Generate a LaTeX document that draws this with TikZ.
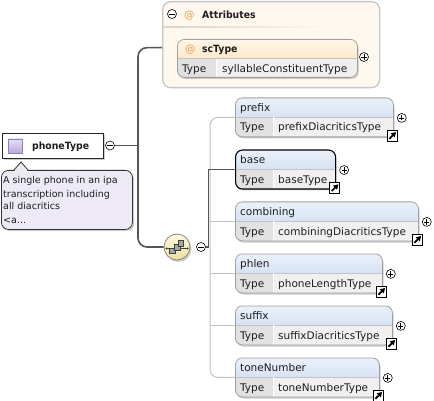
\documentclass[tikz,border=0pt]{standalone}
\usepackage{fontspec}
\setmainfont{DejaVu Sans}[BoldFeatures={FakeStretch=0.93}]
\usetikzlibrary{arrows.meta}

\definecolor{txtc}{HTML}{1E1E1E}
\definecolor{connc}{HTML}{555555}
\definecolor{treec}{HTML}{C2C2C2}
\definecolor{boxc}{HTML}{A0A0A0}
\definecolor{hdtop}{HTML}{EBF1FA}
\definecolor{hdbot}{HTML}{BFD2EE}
\definecolor{typec}{HTML}{E1E1E1}
\definecolor{valc}{HTML}{F0F0F0}
\definecolor{divc}{HTML}{C4C4C4}
\definecolor{attrfill}{HTML}{FFF8EE}
\definecolor{attrborder}{HTML}{C6C6C6}
\definecolor{attrline}{HTML}{DCD3C6}
\definecolor{orgtop}{HTML}{FFF6E8}
\definecolor{orgbot}{HTML}{FBDCAE}
\definecolor{atc}{HTML}{EBA048}
\definecolor{notefill}{HTML}{EDEAF5}
\definecolor{seqtop}{HTML}{FDF9DE}
\definecolor{seqbot}{HTML}{EADFA0}
\definecolor{seqborder}{HTML}{8A887A}
\definecolor{iconin}{HTML}{E6E0F3}
\definecolor{iconout}{HTML}{B9ABDB}
\definecolor{iconborder}{HTML}{8E80BE}

\tikzset{
  txt/.style={inner sep=0pt, anchor=base west, text=txtc, font=\fontsize{10.5}{12}\selectfont},
  btxt/.style={txt, font=\fontsize{10}{12}\selectfont\bfseries},
  ntxt/.style={txt, font=\fontsize{9.5}{12}\selectfont},
  conn/.style={draw=connc, line width=1.6pt},
  tree/.style={draw=treec, line width=1pt},
  boxshadow/.style={fill=black, opacity=0.2},
  cellbox/.style n args={3}{anchor=north west, rectangle, rounded corners=7pt,
    inner sep=0pt, minimum height=39pt, fill=white, draw=boxc, line width=0.8pt,
    path picture={
      \shade[sharp corners, top color=#1, bottom color=#2]
        (path picture bounding box.north west) rectangle ([yshift=-19.5pt]path picture bounding box.north east);
      \fill[sharp corners, fill=typec]
        ([yshift=-19.5pt]path picture bounding box.north west) rectangle ([xshift=#3]path picture bounding box.south west);
      \fill[sharp corners, fill=valc]
        ([xshift=#3,yshift=-19.5pt]path picture bounding box.north west) rectangle (path picture bounding box.south east);
      \draw[sharp corners, draw=divc, line width=0.8pt]
        ([yshift=-19.5pt]path picture bounding box.north west) -- ([yshift=-19.5pt]path picture bounding box.north east);
      \draw[sharp corners, draw=white, line width=0.8pt]
        ([xshift=#3,yshift=-19.5pt]path picture bounding box.north west) -- ([xshift=#3]path picture bounding box.south west);
    }},
  expander/.style={circle, draw=black, line width=0.6pt, fill=white, minimum size=9pt, inner sep=0pt},
  minus/.style={expander, path picture={
      \draw[draw=black, line width=0.7pt]
        ([xshift=-2.6pt]path picture bounding box.center) -- ([xshift=2.6pt]path picture bounding box.center);}},
  plus/.style={expander, path picture={
      \draw[draw=black, line width=0.7pt]
        ([xshift=-2.6pt]path picture bounding box.center) -- ([xshift=2.6pt]path picture bounding box.center)
        ([yshift=-2.6pt]path picture bounding box.center) -- ([yshift=2.6pt]path picture bounding box.center);}},
  link/.style={draw=black, line width=0.8pt, fill=white, minimum size=10.5pt, inner sep=0pt,
    path picture={
      \draw[draw=black, line width=1.7pt, -{Triangle[length=4.6pt,width=5.4pt]}]
        ([shift={(2.3pt,2.3pt)}]path picture bounding box.south west) --
        ([shift={(-1.5pt,-1.5pt)}]path picture bounding box.north east);}},
}

% element box: name, x, y, width, label, type, extra style
\newcommand\elemrow[7]{%
  \fill[boxshadow, rounded corners=7pt] (#2+1.5,#3+2) rectangle ++(#4,39);
  \node[cellbox={hdtop}{hdbot}{38pt}, minimum width=#4pt, #7] (#1) at (#2,#3) {};
  \node[txt] (#1-name) at ([xshift=5pt,yshift=-14pt]#1.north west) {#5};
  \node[txt] (#1-typelabel) at ([xshift=5pt,yshift=-33.5pt]#1.north west) {Type};
  \node[txt] (#1-type) at ([xshift=43pt,yshift=-33.5pt]#1.north west) {#6};
  \node[plus] (#1-x) at ([xshift=8pt,yshift=-0.5pt]#1.east) {};
  \node[link] (#1-link) at ([xshift=-1.5pt,yshift=1.5pt]#1.south east) {};
}

\begin{document}
\begin{tikzpicture}[x=1pt, y=-1pt]
\useasboundingbox (0,0) rectangle (434,401);

% ---- phoneType complex type ----
\fill[boxshadow] (3.5,135) rectangle (105,160);
\node[draw=black!85, line width=0.8pt, fill=white, anchor=north west,
      minimum width=101pt, minimum height=25pt, inner sep=0pt] (phone) at (2,133) {};
\node[draw=iconborder, line width=0.7pt, top color=iconin, bottom color=iconout,
      minimum width=14pt, minimum height=14pt, inner sep=0pt] (phone-icon) at (15,146) {};
\node[btxt] (phone-name) at (32,150) {phoneType};
\node[minus] (phone-x) at (110,145.5) {};

% ---- documentation balloon ----
\fill[boxshadow, rounded corners=7pt] (2.5,172) rectangle (134,231);
\node[draw=black!80, line width=0.8pt, fill=notefill, rounded corners=7pt, anchor=north west,
      minimum width=131pt, minimum height=59pt, inner sep=0pt] (note) at (1,170) {};
\fill[notefill] ([xshift=13.5pt,yshift=-0.8pt]note.north west) -- ([xshift=20pt,yshift=8pt]note.north west)
  -- ([xshift=26.5pt,yshift=-0.8pt]note.north west) -- cycle;
\draw[black!80, line width=0.8pt] ([xshift=13pt]note.north west) -- ([xshift=20pt,yshift=8pt]note.north west)
  -- ([xshift=27pt]note.north west);
\node[ntxt] (note-l1) at (3,184) {A single phone in an ipa};
\node[ntxt] (note-l2) at (3,197) {transcription including};
\node[ntxt] (note-l3) at (3,210) {all diacritics};
\node[ntxt] (note-l4) at (3,223) {<a...};

% ---- attribute group ----
\node[draw=attrborder, line width=1.3pt, fill=attrfill, rounded corners=8pt, anchor=north west,
      minimum width=217pt, minimum height=86pt, inner sep=0pt] (attrs) at (162,1) {};
\shade[left color=attrline, right color=attrfill] (163,26.5) rectangle (330,27.7);
\node[minus] (attrs-x) at (172,14) {};
\node[txt, text=atc] (attrs-at) at (184,18.5) {@};
\node[btxt] (attrs-name) at (202,18.5) {Attributes};

\fill[boxshadow, rounded corners=7pt] (178.5,41) rectangle ++(180,38);
\node[cellbox={orgtop}{orgbot}{39pt}, minimum width=180pt, minimum height=38pt] (sctype) at (177,39) {};
\node[txt, text=atc] (sctype-at) at (185,53) {@};
\node[btxt] (sctype-name) at (202,53) {scType};
\node[txt] (sctype-typelabel) at (182,72.5) {Type};
\node[txt] (sctype-type) at (222,72.5) {syllableConstituentType};
\node[plus] (sctype-x) at (364,57) {};

% ---- sequence compositor ----
\fill[boxshadow] (178.5,249) circle (13pt);
\node[circle, draw=seqborder, line width=0.8pt, top color=seqtop, bottom color=seqbot,
      minimum size=26pt, inner sep=0pt] (seq) at (177,247) {};
\begin{scope}[shift={(seq.center)}]
  \draw[black!75, line width=0.7pt] (-10.5,1.5) -- (10.5,1.5);
  \fill[black!75] (-10.5,1.5) circle (1.2pt) (10.5,1.5) circle (1.2pt);
  \filldraw[fill=black!35, draw=black!75, line width=0.5pt] (-7.3,0.8) rectangle ++(5.6,5.6);
  \filldraw[fill=black!35, draw=black!75, line width=0.5pt] (-2.3,-2.8) rectangle ++(5.6,5.6);
  \filldraw[fill=black!35, draw=black!75, line width=0.5pt] (0.9,-6.8) rectangle ++(5.6,5.6);
\end{scope}
\node[minus] (seq-x) at (201,247) {};

% ---- child elements ----
\elemrow{prefix}{235}{97.5}{158}{prefix}{prefixDiacriticsType}{}
\elemrow{base}{235}{149.5}{100}{base}{baseType}{draw=black, line width=1.1pt}
\elemrow{combining}{235}{201.5}{183}{combining}{combiningDiacriticsType}{}
\elemrow{phlen}{235}{253.5}{147}{phlen}{phoneLengthType}{}
\elemrow{suffix}{235}{305.5}{157}{suffix}{suffixDiacriticsType}{}
\elemrow{toneNumber}{235}{357.5}{144}{toneNumber}{toneNumberType}{}

% ---- connectors ----
\coordinate (j1) at (138,145.5);
\draw[conn] (phone-x.east) -- (j1);
\draw[conn, rounded corners=9pt] (j1) |- ([yshift=-3pt]attrs.west);
\draw[conn, rounded corners=9pt] (j1) |- (seq.west);

\coordinate (tcol) at (210,250);
\draw[tree, rounded corners=8pt] (prefix.west) -| (tcol) |- (toneNumber.west);
\foreach \n in {combining, phlen, suffix}
  \draw[tree] (\n.west) -- (\n.west -| tcol);

\coordinate (j2) at (208.5,247);
\draw[conn] (seq-x.east) -- (j2) |- (base.west);
\end{tikzpicture}
\end{document}
